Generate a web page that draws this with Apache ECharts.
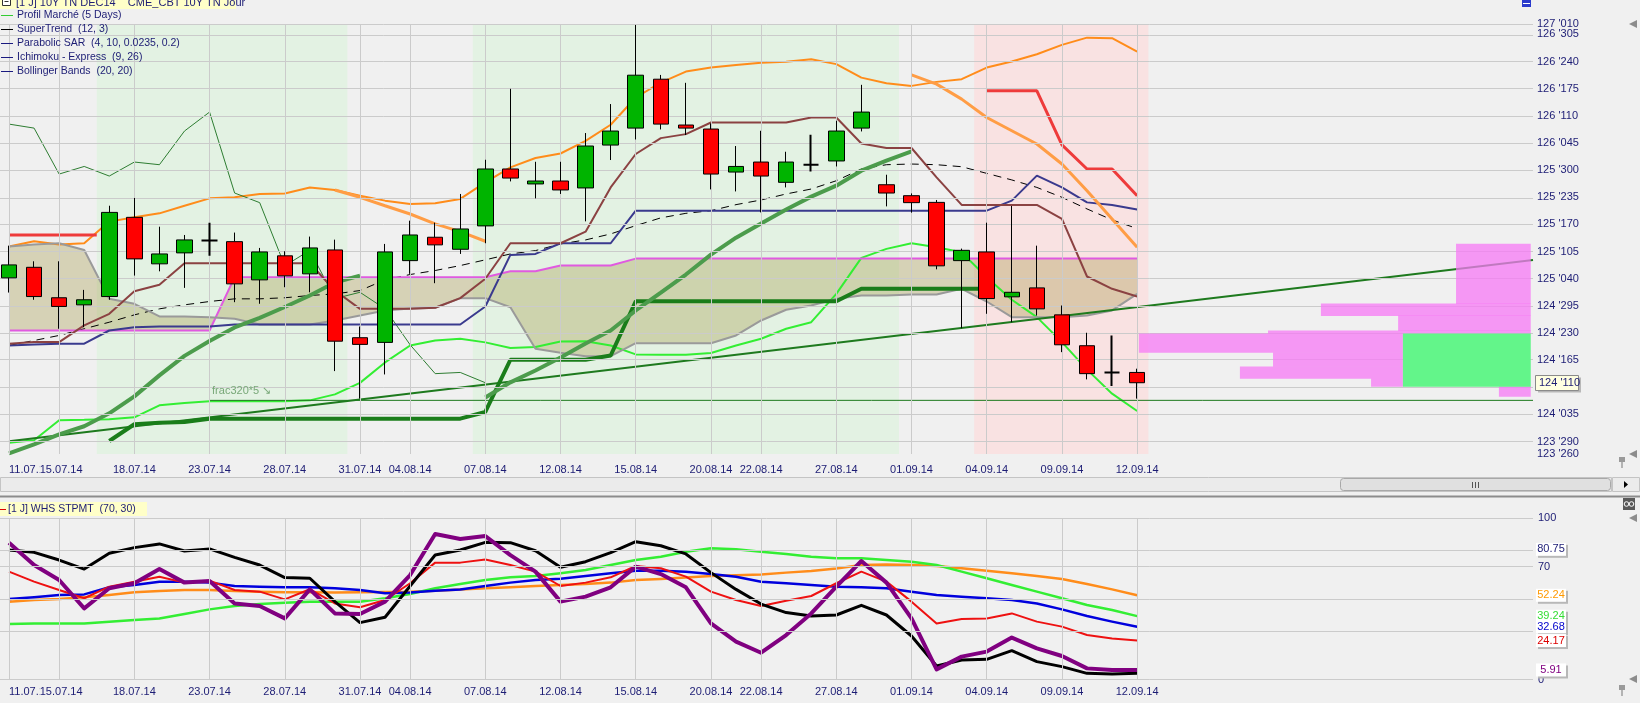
<!DOCTYPE html>
<html><head><meta charset="utf-8">
<script src="https://cdn.jsdelivr.net/npm/echarts@6/dist/echarts.min.js"></script>
<style>html,body{margin:0;padding:0;background:#f0f0f0;overflow:hidden}#c{width:1640px;height:703px}</style>
</head><body><div id="c"></div>
<script>
// ---------- DATA ----------
const dateLabels = ['11.07.14','15.07.14','18.07.14','23.07.14','28.07.14','31.07.14','04.08.14','07.08.14','12.08.14','15.08.14','20.08.14','22.08.14','27.08.14','01.09.14','04.09.14','09.09.14','12.09.14'];
const labelIndex = [0,2,5,8,11,14,16,19,22,25,28,30,33,36,39,42,45];
const priceTickLabels = ["123 '260","123 '290","124 '035","124 '100","124 '165","124 '230","124 '295","125 '040","125 '105","125 '170","125 '235","125 '300","126 '045","126 '110","126 '175","126 '240","126 '305","127 '010"];
const lastPriceLabel = "124 '110";
const stpmtTicks = [0,30,50,70,80,100];

const open  = [125.131,125.210,124.982,124.929,124.991,125.584,125.236,125.318,125.410,125.402,125.116,125.296,125.161,125.340,124.683,124.648,125.260,125.435,125.345,125.520,125.946,125.834,125.856,125.804,126.125,126.252,126.618,126.275,126.245,125.923,125.998,125.846,125.978,126.006,126.252,125.828,125.746,125.696,125.260,125.325,124.989,125.056,124.854,124.623,124.423,124.423];
const close = [125.228,124.991,124.917,124.967,125.621,125.273,125.310,125.415,125.410,125.086,125.325,125.146,125.355,124.657,124.633,125.325,125.452,125.378,125.497,125.946,125.878,125.856,125.789,126.118,126.230,126.648,126.282,126.252,125.908,125.965,125.893,125.998,125.978,126.230,126.372,125.766,125.694,125.221,125.337,124.976,125.023,124.899,124.630,124.414,124.423,124.346];
const high  = [125.372,125.255,125.255,125.041,125.671,125.729,125.514,125.452,125.544,125.470,125.355,125.330,125.440,125.417,124.767,125.385,125.559,125.544,125.759,126.015,126.546,126.000,126.000,126.215,126.432,127.024,126.650,126.591,126.287,126.118,126.232,126.075,126.202,126.307,126.576,125.903,125.763,125.714,125.350,125.544,125.669,125.372,124.924,124.720,124.700,124.451];
const low   = [125.021,124.967,124.750,124.762,124.967,125.148,125.180,125.056,125.296,124.949,124.937,125.061,125.023,124.433,124.227,124.408,125.161,125.091,125.310,125.390,125.853,125.726,125.759,125.554,126.013,126.167,126.242,126.200,125.793,125.778,125.621,125.808,125.928,125.965,126.227,125.666,125.619,125.195,124.754,124.862,124.799,124.849,124.575,124.371,124.321,124.227];

const bbUpper = [125.365,125.405,125.380,125.390,125.552,125.584,125.614,125.671,125.726,125.734,125.759,125.763,125.808,125.789,125.746,125.709,125.684,125.689,125.722,125.846,125.958,126.028,126.062,126.157,126.277,126.481,126.593,126.675,126.705,126.725,126.742,126.748,126.768,126.731,126.630,126.588,126.568,126.598,126.618,126.705,126.750,126.805,126.875,126.929,126.925,126.825];
const bbLower = [123.896,123.915,124.065,124.068,124.072,124.087,124.177,124.194,124.207,124.207,124.207,124.207,124.214,124.259,124.345,124.498,124.625,124.662,124.675,124.648,124.606,124.614,124.655,124.657,124.625,124.558,124.556,124.556,124.568,124.625,124.675,124.750,124.799,125.011,125.281,125.348,125.390,125.360,125.322,125.136,124.967,124.837,124.650,124.444,124.264,124.134];
const bbMid   = [124.625,124.662,124.700,124.750,124.799,124.854,124.899,124.929,124.954,124.974,124.974,124.982,124.999,125.011,125.036,125.116,125.156,125.186,125.223,125.266,125.310,125.335,125.385,125.415,125.460,125.522,125.580,125.614,125.634,125.679,125.714,125.759,125.796,125.858,125.946,125.978,125.983,125.978,125.963,125.913,125.864,125.808,125.734,125.647,125.565,125.500];
const tenkan  = [124.625,124.633,124.638,124.638,124.737,124.762,124.767,124.767,124.767,124.782,124.782,124.782,124.782,124.782,124.782,124.782,124.782,124.782,124.782,124.917,125.303,125.310,125.390,125.390,125.390,125.634,125.634,125.634,125.634,125.634,125.634,125.634,125.634,125.634,125.634,125.634,125.634,125.634,125.634,125.634,125.709,125.896,125.808,125.696,125.677,125.642];
const kijun   = [124.638,124.650,124.650,124.775,124.862,125.031,125.079,125.240,125.240,125.240,125.240,125.240,125.240,125.036,124.899,124.899,124.899,124.907,124.979,125.124,125.390,125.390,125.390,125.477,125.808,126.058,126.177,126.207,126.294,126.294,126.294,126.294,126.331,126.331,126.137,126.103,126.103,125.883,125.677,125.677,125.677,125.677,125.572,125.141,125.049,124.991];
const senkouB = [124.737,124.737,124.737,124.737,124.737,124.737,124.737,124.737,124.737,125.136,125.136,125.136,125.136,125.136,125.136,125.136,125.136,125.136,125.136,125.136,125.180,125.180,125.223,125.223,125.223,125.275,125.275,125.275,125.275,125.275,125.275,125.275,125.275,125.275,125.275,125.275,125.275,125.275,125.275,125.275,125.275,125.275,125.275,125.275,125.275,125.275];
const senkouA = [125.365,125.380,125.390,125.340,124.974,124.937,124.842,124.842,124.837,124.825,124.782,124.782,124.782,124.812,124.849,124.887,124.902,124.907,124.979,124.979,124.911,124.600,124.570,124.545,124.545,124.642,124.642,124.642,124.642,124.700,124.812,124.892,124.924,124.974,124.999,124.999,125.006,125.006,125.049,124.954,124.837,124.837,124.837,124.849,124.887,125.011];
const chikou  = [126.282,126.252,125.908,125.965,125.893,125.998,125.978,126.230,126.372,125.766,125.694,125.221,125.337,124.976,125.023,124.899,124.630,124.414,124.423,124.346];
const stUp1   = [123.818,123.885,123.960,124.020,124.117,124.244,124.401,124.547,124.659,124.760,124.831,124.913,124.999,125.096,125.148];           // from idx 0
const stDown1 = [125.789,125.734,125.671,125.609,125.535,125.477,125.405];                                                                   // from idx 13
const stUp2   = [124.236,124.349,124.438,124.535,124.640,124.737,124.887,125.021,125.156,125.305,125.432,125.537,125.642,125.739,125.821,125.933,126.008,126.077]; // from idx 19
const stDown2 = [126.650,126.581,126.469,126.331,126.232,126.133,125.983,125.783,125.572,125.360];                                           // from idx 36
const sarStep = [123.910,124.035,124.046,124.052,124.077,124.077,124.077,124.077,124.077,124.077,124.077,124.077,124.077,124.077,124.077,124.127,124.518,124.518,124.518,124.518,124.550,124.956,124.956,124.956,124.956,124.956,124.956,124.956,124.956,124.956,125.049,125.049,125.049,125.049,125.049,125.049]; // from idx 4
const redLeft  = [[0,125.452],[3.5,125.452]];
const redRight = [126.531,126.531,126.531,126.127,125.946,125.946,125.746]; // from idx 39
const trendLine = [[0,123.908],[60.79,125.264]];
const fracLine  = [[8.02,124.214],[60.79,124.214]];
const shadeGreen = [[3.5,13.5],[18.5,35.5]];
const shadePink  = [[38.5,45.45]];
// market profile rows: [xFrom, xTo, priceLow, priceHigh]
const profilePink = [[57.72,60.7,124.939,125.387],[52.33,60.7,124.849,124.939],[55.41,60.7,124.737,124.849],[50.22,60.7,124.715,124.737],[45.07,55.6,124.573,124.715],[50.42,55.6,124.468,124.573],[49.1,55.6,124.378,124.468],[54.33,55.6,124.319,124.378],[59.43,60.7,124.244,124.319]];
const profileGreen = [[55.6,60.7,124.319,124.715]];

const stpBlack  = [80.3,78.9,74.1,68.5,78.3,81.8,84.1,79.7,81.0,75.8,71.0,63.2,62.8,48.3,35.3,38.6,58.0,77.2,80.3,85.1,84.9,79.9,69.6,73.1,78.7,85.5,83.0,77.9,66.3,55.9,46.8,41.5,39.4,40.0,46.0,40.0,27.0,8.4,12.1,12.5,17.9,11.1,8.0,3.8,3.4,3.8];
const stpPurple = [84.9,71.0,61.7,44.1,56.6,59.7,68.5,60.1,61.1,47.2,45.6,37.9,55.9,41.0,40.6,48.3,64.8,90.3,87.2,89.0,77.2,66.9,48.3,51.4,57.2,70.0,65.4,57.2,34.8,23.5,16.6,27.6,41.0,57.6,73.5,60.1,37.9,6.3,14.2,17.3,26.0,19.3,14.6,6.9,5.9,5.9];
const stpRed    = [66.9,60.7,55.5,50.4,57.6,60.7,63.8,60.1,61.3,55.5,54.5,49.7,56.0,47.2,44.8,49.3,59.7,72.5,72.5,74.5,71.0,66.9,58.0,60.1,63.4,70.4,69.0,63.8,54.5,49.3,45.6,48.9,51.8,59.7,66.9,60.7,48.3,34.8,37.5,37.9,41.0,35.9,32.8,27.6,25.5,24.2];
const stpOrange = [48.3,49.3,49.9,51.0,52.4,54.1,54.9,55.5,55.5,54.9,54.5,54.1,54.1,53.9,54.1,54.3,54.5,55.1,55.9,56.6,57.2,58.0,58.6,59.2,60.1,61.7,62.3,63.2,64.2,64.6,65.2,66.3,67.3,68.8,71.0,71.4,71.0,70.4,69.0,67.5,65.9,64.2,62.3,59.2,55.9,52.3];
const stpGreen  = [34.4,34.8,34.8,34.8,35.9,36.9,37.9,40.6,43.5,45.6,46.8,47.6,48.3,48.3,48.3,50.4,53.0,56.6,59.2,61.7,63.4,64.2,65.9,67.9,71.0,74.1,76.2,79.3,81.4,80.8,79.3,77.9,76.2,75.2,75.2,74.1,73.1,71.0,66.9,62.8,58.6,54.5,50.4,46.2,43.1,39.3];
const stpBlue   = [49.9,51.0,52.4,52.8,57.2,58.6,60.7,60.7,60.1,58.0,57.6,57.2,57.2,56.6,55.5,53.5,53.9,55.1,55.9,58.0,60.1,61.7,62.5,64.2,65.9,67.5,67.5,66.9,65.5,63.8,60.7,59.7,58.6,57.6,57.2,56.6,54.5,52.4,51.4,50.4,49.3,47.2,43.5,39.4,35.9,32.7];
const stpBadgeValues = [80.75,52.24,39.24,32.68,24.17,5.91];
const stpBadgeText   = ['80.75','52.24','39.24','32.68','24.17','5.91'];

const legendItems = ['Profil Marché (5 Days)','SuperTrend  (12, 3)','Parabolic SAR  (4, 10, 0.0235, 0.2)','Ichimoku - Express  (9, 26)','Bollinger Bands  (20, 20)'];
const titleText = '[1 J] 10Y TN DEC14    CME_CBT 10Y TN Jour';
const subTitleText = '[1 J] WHS STPMT  (70, 30)';

// ---------- CHART ----------
const NAVY = '#1c1c74';
const FF = '"Liberation Sans", Arial, sans-serif';
const FONT = '11px ' + FF;
function parse32(s){ const m = s.match(/(\d+)\s*'(\d\d)(\d)/); return +m[1] + (+m[2] + (+m[3])/10)/32; }
const priceTicks = priceTickLabels.map(parse32);
const pMin = priceTicks[0], pMax = priceTicks[priceTicks.length-1];
const xMin = -0.359, xMax = 60.79;
function pts(start, arr){ return arr.map((v,k)=>[start+k, v]); }

const chart = echarts.init(document.getElementById('c'), null, {width:1640, height:703});

// the first two date labels overlap; they are drawn as graphic texts below
function xAxisFor(grid, margin){
  return {type:'value', gridIndex:grid, min:xMin, max:xMax,
    axisLine:{show:false}, axisTick:{show:false}, splitLine:{show:false},
    axisLabel:{customValues:labelIndex, margin:margin, hideOverlap:false, fontSize:11, color:NAVY, fontFamily:FF,
      formatter:function(v){ const k = labelIndex.indexOf(Math.round(v)); return k < 2 ? '' : dateLabels[k]; } } };
}
const gridLS = {color:'#cbcbcb', width:1, type:'solid'};
const vLines = labelIndex.map(i=>({xAxis:i}));

function lineS(data, color, width, extra){
  return Object.assign({type:'line', xAxisIndex:0, yAxisIndex:0, data:data, symbol:'none', showSymbol:false, silent:true, z:3,
    lineStyle:{color:color, width:width}, emphasis:{disabled:true}}, extra||{});
}
function lineB(data, color, width){
  return {type:'line', xAxisIndex:1, yAxisIndex:1, data:pts(0,data), symbol:'none', showSymbol:false, silent:true, z:3,
    lineStyle:{color:color, width:width, join:'round'}, emphasis:{disabled:true}};
}

const candleData = open.map((o,i)=>{
  const item = {value:[i, o, close[i], low[i], high[i]]};
  if (o === close[i]) item.itemStyle = {color:'#000', color0:'#000', borderColor:'#000', borderColor0:'#000', borderColorDoji:'#000', borderWidth:2};
  return item;
});

function profileSeries(rows, color, opacity){
  return {type:'custom', xAxisIndex:0, yAxisIndex:0, z:6, silent:true, data:rows, encode:{x:[0,1], y:[2,3]},
    renderItem:function(params, api){
      const p1 = api.coord([api.value(0), api.value(3)]);
      const p2 = api.coord([api.value(1), api.value(2)]);
      return {type:'rect', shape:{x:p1[0], y:p1[1], width:p2[0]-p1[0], height:p2[1]-p1[1]+0.4}, style:{fill:color, opacity:opacity}};
    }};
}

const option = {
  backgroundColor:'#f0f0f0', animation:false,
  grid:[{left:0, top:24, width:1533, height:430, containLabel:false, outerBoundsMode:'none'},
        {left:0, top:518.3, width:1533, height:161.2, containLabel:false, outerBoundsMode:'none'}],
  xAxis:[xAxisFor(0,10), xAxisFor(1,7)],
  yAxis:[
    {type:'value', gridIndex:0, position:'right', min:pMin, max:pMax, axisLine:{show:false}, axisTick:{show:false}, splitLine:{show:false},
     axisLabel:{customValues:priceTicks, margin:4, fontSize:11, color:NAVY, fontFamily:FF, hideOverlap:false,
       formatter:function(v){ let k=0, d=1e9; priceTicks.forEach((t,i)=>{ if(Math.abs(t-v)<d){d=Math.abs(t-v);k=i;} }); return k === priceTicks.length-1 ? '' : priceTickLabels[k]; }}},
    {type:'value', gridIndex:1, position:'right', min:0, max:100, axisLine:{show:false}, axisTick:{show:false}, splitLine:{show:false},
     axisLabel:{customValues:stpmtTicks, margin:5, fontSize:11, color:NAVY, fontFamily:FF, hideOverlap:false, showMinLabel:true, showMaxLabel:true}}
  ],
  series:[
    {type:'line', xAxisIndex:0, yAxisIndex:0, data:[[xMin,pMin]], symbol:'none', lineStyle:{opacity:0}, z:0, silent:true,
     markArea:{silent:true, data: shadeGreen.map(r=>[{xAxis:r[0], itemStyle:{color:'#e3f2e3', opacity:1}},{xAxis:r[1]}])
       .concat(shadePink.map(r=>[{xAxis:r[0], itemStyle:{color:'#f9e2e2', opacity:1}},{xAxis:r[1]}]))}},
    {type:'line', xAxisIndex:0, yAxisIndex:0, data:[[xMin,pMin]], symbol:'none', lineStyle:{opacity:0}, z:1, silent:true,
     markLine:{silent:true, symbol:['none','none'], label:{show:false}, lineStyle:gridLS, emphasis:{disabled:true},
       data: priceTicks.map(v=>({yAxis:v})).concat(vLines)}},
    {type:'custom', xAxisIndex:0, yAxisIndex:0, z:2, silent:true, data:[[0, senkouA[0]]], encode:{x:0, y:1},
     renderItem:function(params, api){
       const p=[];
       for(let i=0;i<senkouA.length;i++) p.push(api.coord([i, senkouA[i]]));
       for(let i=senkouB.length-1;i>=0;i--) p.push(api.coord([i, senkouB[i]]));
       return {type:'polygon', shape:{points:p}, style:{fill:'rgba(160,145,60,0.32)'}};
     }},
    lineS(pts(0,bbUpper), '#ff8c1a', 2),
    lineS(pts(0,bbLower), '#33ee33', 2),
    lineS(pts(0,bbMid), '#000000', 1, {lineStyle:{color:'#000', width:1, type:[8,6]}}),
    lineS(pts(0,chikou), '#2e7d32', 1),
    lineS(pts(0,senkouB), '#e05ae0', 2),
    lineS(pts(0,senkouA), '#9a9a9a', 2),
    lineS(trendLine, '#1e7a1e', 2),
    lineS(fracLine, '#1e7a1e', 1),
    lineS(pts(4,sarStep), '#1a7d1a', 4),
    lineS(pts(0,tenkan), '#3a3a8e', 2),
    lineS(pts(0,kijun), '#8b4242', 2),
    lineS(pts(0,stUp1), '#4c9c4c', 4),
    lineS(pts(19,stUp2), '#4c9c4c', 4),
    lineS(pts(13,stDown1), '#ff9d45', 3),
    lineS(pts(36,stDown2), '#ff9d45', 3),
    lineS(redLeft, '#ee3b3b', 3),
    lineS(pts(39,redRight), '#ee3b3b', 3),
    {type:'candlestick', xAxisIndex:0, yAxisIndex:0, z:5, silent:true, barWidth:16, data:candleData,
     itemStyle:{color:'#00b400', color0:'#ff0000', borderColor:'#000', borderColor0:'#000', borderColorDoji:'#000', borderWidth:1}},
    profileSeries(profilePink, 'rgb(247,122,245)', 0.75),
    profileSeries(profileGreen, '#63f58a', 1),
    // lower panel
    {type:'line', xAxisIndex:1, yAxisIndex:1, data:[[xMin,0]], symbol:'none', lineStyle:{opacity:0}, z:1, silent:true,
     markLine:{silent:true, symbol:['none','none'], label:{show:false}, lineStyle:gridLS, emphasis:{disabled:true},
       data: stpmtTicks.map(v=>({yAxis:v})).concat(vLines)}},
    lineB(stpOrange, '#ff8c1a', 2.5),
    lineB(stpGreen, '#33ee33', 2.5),
    lineB(stpBlue, '#0000dd', 2.5),
    lineB(stpRed, '#ee1111', 2),
    lineB(stpBlack, '#000000', 3),
    lineB(stpPurple, '#800080', 4)
  ]
};
chart.setOption(option);

// ---------- overlays ----------
const gfx = [];
function text(x,y,t,fill,align,valign,font,bg){ const st = {text:t, x:x, y:y, fill:fill, font:font||FONT, textAlign:align||'left', textVerticalAlign:valign||'middle'}; if(bg){ st.backgroundColor = bg; } gfx.push({type:'text', z:100, silent:true, style:st}); }
function rect(x,y,w,h,fill,stroke,r){ gfx.push({type:'rect', z:100, silent:true, shape:{x:x,y:y,width:w,height:h,r:r||0}, style:{fill:fill, stroke:stroke||null, lineWidth:1}}); }
function seg(x1,y1,x2,y2,stroke,w){ gfx.push({type:'line', z:100, silent:true, shape:{x1:x1,y1:y1,x2:x2,y2:y2}, style:{stroke:stroke, lineWidth:w||1}}); }
function tri(p,fill){ gfx.push({type:'polygon', z:100, silent:true, shape:{points:p}, style:{fill:fill}}); }

// title strip
rect(0,0,236,9,'#ffffc8');
rect(2.5,-2.5,8,8,'#ffffff','#333333'); seg(4.5,1.5,8.5,1.5,'#333333',1);
text(16,8,titleText,NAVY,'left','bottom');
// legend
const legendColors = ['#33cc33','#000000','#1a1a80','#1a1a80','#1a1a80'];
legendItems.forEach((t,k)=>{ const y = 15 + 14*k; seg(1,y+0.5,13,y+0.5,legendColors[k],1); text(17,y,t,NAVY,'left','middle','10.5px '+FF); });
// overlapping first two date labels (both panels)
[[0,464],[1,686.5]].forEach(a=>{
  const x0 = chart.convertToPixel({xAxisIndex:a[0]}, labelIndex[0]);
  const x1 = chart.convertToPixel({xAxisIndex:a[0]}, labelIndex[1]);
  text(x0, a[1], dateLabels[0], NAVY, 'left', 'top');
  text(x1+2, a[1], dateLabels[1], NAVY, 'center', 'top', FONT, '#f0f0f0');
});
// top price label overlapping its neighbour
text(1537, chart.convertToPixel({yAxisIndex:0}, pMax), priceTickLabels[priceTickLabels.length-1], NAVY, 'left', 'middle');
// frac label
const fp = chart.convertToPixel({gridIndex:0}, fracLine[0]);
text(fp[0]+2, fp[1]-9, 'frac320*5 ↘', '#78a878');
// last price badge
const lpY = chart.convertToPixel({yAxisIndex:0}, parse32(lastPriceLabel));
rect(1538,lpY-5.5,43,15,'#b8b8b8');
rect(1535.5,lpY-7.5,43,15,'#ffffe1','#8a8a8a');
text(1539,lpY,lastPriceLabel,NAVY);
// scrollbar & separator
rect(0.5,477.5,1611,14,'#ebebeb','#c4c4c4');
rect(1340.5,478.5,270,12,'#e0e0e0','#a8a8a8',3);
[1472,1475,1478].forEach(x=>seg(x+0.5,482,x+0.5,488,'#555555',1));
rect(1612.5,477.5,27,14,'#ebebeb','#c4c4c4');
tri([[1624,481],[1624,488],[1628,484.5]],'#000000');
seg(0,496.5,1640,496.5,'#8c8c8c',2);
// lower panel header
rect(0,502,147,14,'#ffffc8');
seg(0,509.5,6,509.5,'#e00000',1);
text(8,509,subTitleText,NAVY,'left','middle','10.5px '+FF);
// lower badges
const badgeColors = [NAVY,'#ff9900','#33dd33','#0000cc','#dd0000','#800080'];
stpBadgeValues.forEach((v,k)=>{
  const y = chart.convertToPixel({yAxisIndex:1}, v);
  rect(1538,y-4.5,30,13,'#b8b8b8');
  rect(1536,y-6.5,30,13,'#ffffff');
  text(1551,y,stpBadgeText[k],badgeColors[k],'center','middle');
});
// right side icons
[24,454,518,679].forEach(y=>tri([[1637,y-4],[1637,y+4],[1629,y]],'#8c8c8c'));
[462,690].forEach(y=>{ rect(1619,y-5,6,5,'#9a9a9a'); seg(1622,y,1622,y+6,'#777777',1); });
rect(1522,0,9,7,'#2a3acc'); seg(1523,3.5,1530,3.5,'#ffffff',1);
rect(1623,498,12,12,'#5a5a5a');
gfx.push({type:'circle', z:101, silent:true, shape:{cx:1626.5,cy:504,r:2.3}, style:{fill:null, stroke:'#ffffff', lineWidth:1}});
gfx.push({type:'circle', z:101, silent:true, shape:{cx:1631.5,cy:504,r:2.3}, style:{fill:null, stroke:'#ffffff', lineWidth:1}});

chart.setOption({graphic:{elements:gfx}});
</script>
</body></html>
